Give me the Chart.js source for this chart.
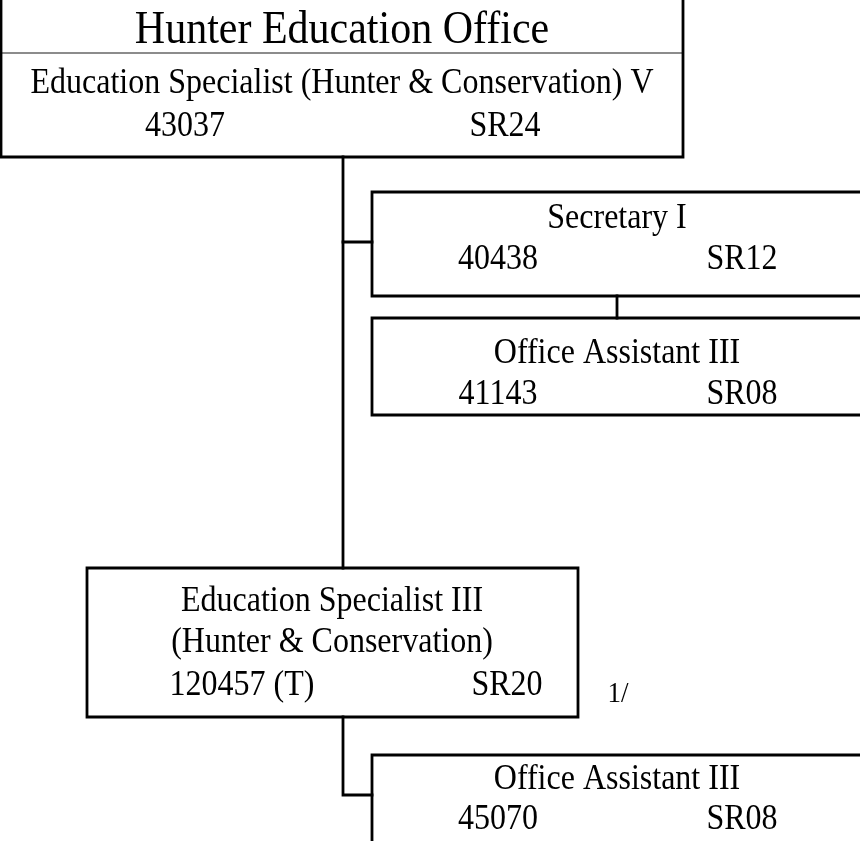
<!DOCTYPE html>
<html lang="en">
<head>
    <meta charset="UTF-8">
    <title>Hunter Education Office</title>
    <script src="https://cdn.jsdelivr.net/npm/chart.js"></script>
    <style>
        html, body { margin: 0; padding: 0; background: #fff; overflow: hidden; }
        #wrap { width: 860px; height: 841px; }
    </style>
</head>
<body>
<div id="wrap"><canvas id="orgChart"></canvas></div>
<script>
    // positions (each box: title lines, position number, salary range)
    const titles = [
        ['Education Specialist (Hunter & Conservation) V'],
        ['Secretary I'],
        ['Office Assistant III'],
        ['Education Specialist III', '(Hunter & Conservation)'],
        ['Office Assistant III']
    ];
    const positionNumbers = ['43037', '40438', '41143', '120457 (T)', '45070'];
    const salaryRanges = ['SR24', 'SR12', 'SR08', 'SR20', 'SR08'];
    const officeName = 'Hunter Education Office';
    const footnote = '1/';

    // layout: box corners [x0, y0, x1, y1] in page units
    const boxes = [
        [1, -5, 683, 157],
        [372, 192, 866, 296],
        [372, 318, 866, 415],
        [87, 568, 578, 717],
        [372, 755, 866, 846]
    ];
    // connector polylines
    const connectors = [
        [[343, 157], [343, 568]],
        [[343, 242], [372, 242]],
        [[617, 296], [617, 318]],
        [[343, 717], [343, 795], [372, 795]]
    ];
    // text layout: title centre x, title line y's, [codeX, gradeX, rowY]
    const titleX = [342, 617, 617, 332, 617];
    const titleRows = [[84], [219], [354], [602, 643], [780]];
    const codeRows = [[185, 505, 127], [498, 742, 260], [498, 742, 395], [242, 507, 686], [498, 742, 820]];

    const toPts = line => line.map(p => ({ x: p[0], y: p[1] }));
    const boxPts = b => toPts([[b[0], b[1]], [b[2], b[1]], [b[2], b[3]], [b[0], b[3]], [b[0], b[1]]]);

    const datasets = [];
    boxes.forEach(b => datasets.push({ data: boxPts(b) }));
    connectors.forEach(c => datasets.push({ data: toPts(c) }));
    // header divider in top box
    datasets.push({ data: toPts([[1, 53], [683, 53]]), borderWidth: 1.5, borderColor: '#666' });

    const textPlugin = {
        id: 'textPlugin',
        afterDatasetsDraw(chart) {
            const ctx = chart.ctx;
            const xs = chart.scales.x, ys = chart.scales.y;
            // reference type is a bit taller than Liberation Serif, so stretch it vertically
            const put = (txt, x, y, size) => {
                ctx.save();
                ctx.translate(xs.getPixelForValue(x), ys.getPixelForValue(y));
                ctx.scale(1, 1.12);
                ctx.font = size + 'px "Liberation Serif", "Times New Roman", serif';
                ctx.fillText(txt, 0, 0);
                ctx.restore();
            };
            ctx.save();
            ctx.fillStyle = '#000';
            ctx.textAlign = 'center';
            ctx.textBaseline = 'middle';
            put(officeName, 342, 31, 42);
            titles.forEach((lines, i) => {
                lines.forEach((t, j) => put(t, titleX[i], titleRows[i][j], 32));
                put(positionNumbers[i], codeRows[i][0], codeRows[i][2], 32);
                put(salaryRanges[i], codeRows[i][1], codeRows[i][2], 32);
            });
            put(footnote, 618, 694, 27);
            ctx.restore();
        }
    };

    new Chart(document.getElementById('orgChart'), {
        type: 'scatter',
        data: { datasets: datasets },
        options: {
            responsive: true,
            maintainAspectRatio: false,
            animation: false,
            showLine: true,
            layout: { padding: 0 },
            elements: {
                point: { radius: 0, hoverRadius: 0 },
                line: { borderColor: '#000', borderWidth: 2.8, tension: 0, borderJoinStyle: 'miter', borderCapStyle: 'square' }
            },
            scales: {
                x: { type: 'linear', min: 0, max: 860, display: false },
                y: { type: 'linear', min: 0, max: 841, reverse: true, display: false }
            },
            plugins: {
                legend: { display: false },
                tooltip: { enabled: false }
            }
        },
        plugins: [textPlugin]
    });
</script>
</body>
</html>
